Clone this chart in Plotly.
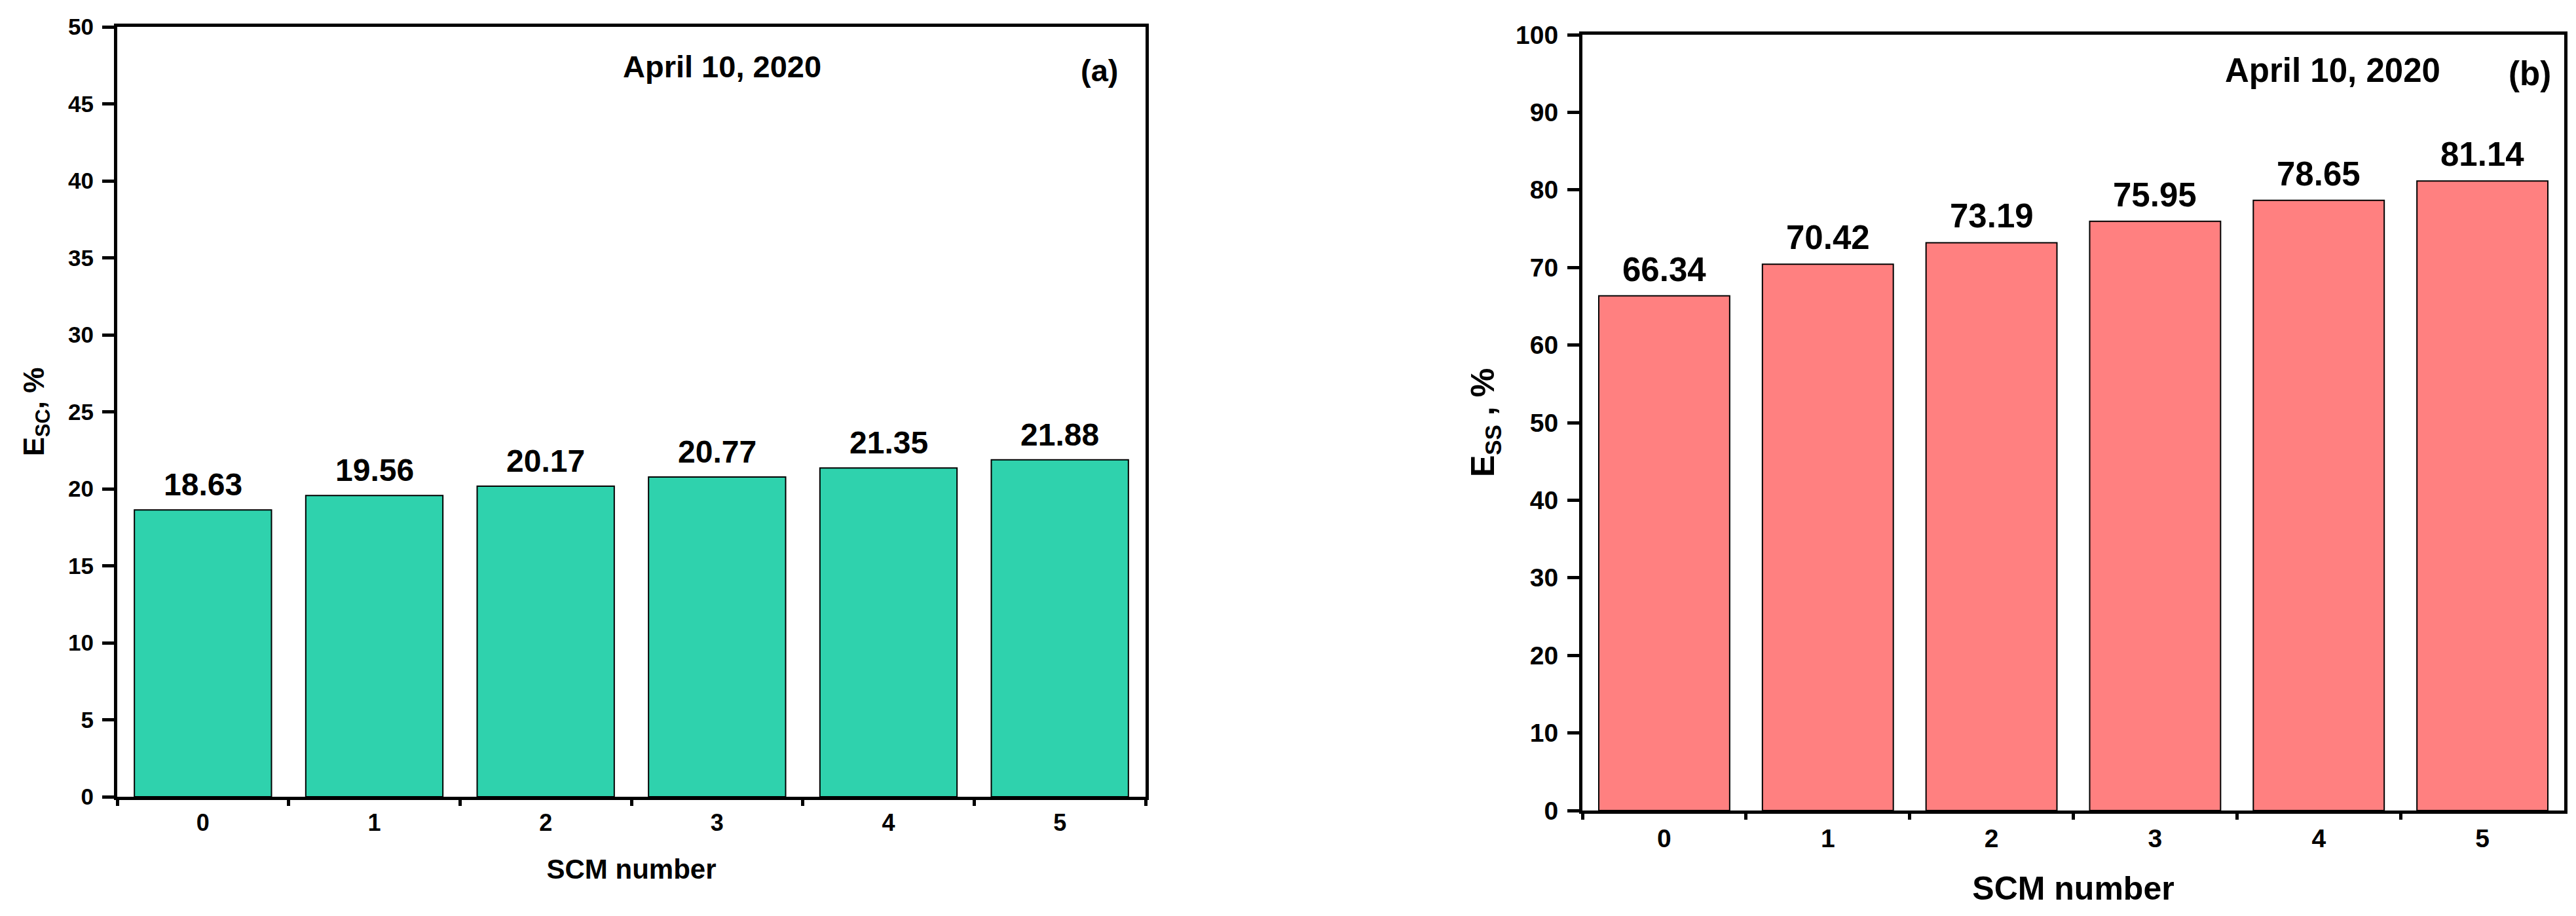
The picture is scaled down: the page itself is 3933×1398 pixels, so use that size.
import plotly.graph_objects as go

# ---- data ----
scm_numbers = ["0", "1", "2", "3", "4", "5"]
esc_values = [18.63, 19.56, 20.17, 20.77, 21.35, 21.88]
ess_values = [66.34, 70.42, 73.19, 75.95, 78.65, 81.14]
date_label = "April 10, 2020"
panel_labels = ["(a)", "(b)"]
x_title = "SCM number"
y_titles = ["E<sub>SC</sub>, %", "E<sub>SS</sub> , %"]

W, H = 3933, 1398
FONT = "Liberation Sans, Arial, sans-serif"
TEAL = "#2FD2AD"
PINK = "#FF8080"

fig = go.Figure()

fig.add_trace(go.Bar(
    x=scm_numbers, y=esc_values, xaxis="x", yaxis="y",
    marker=dict(color=TEAL, line=dict(color="black", width=2)),
    width=0.8, showlegend=False, hoverinfo="x+y",
))
fig.add_trace(go.Bar(
    x=scm_numbers, y=ess_values, xaxis="x2", yaxis="y2",
    marker=dict(color=PINK, line=dict(color="black", width=2)),
    width=0.8, showlegend=False, hoverinfo="x+y",
))


def xaxis_style(domain, anchor, size, title_size, standoff):
    return dict(
        domain=domain, anchor=anchor, type="category",
        categoryorder="array", categoryarray=scm_numbers,
        range=[-0.5, 5.5],
        showline=True, linecolor="black", linewidth=5, mirror=True,
        ticks="outside", tickson="boundaries", ticklen=9, tickwidth=5,
        tickcolor="black", showgrid=False, zeroline=False,
        tickfont=dict(family=FONT, size=size, color="black", weight="bold"),
        ticklabelstandoff=4,
        title=dict(text=x_title, standoff=standoff,
                   font=dict(family=FONT, size=title_size, color="black", weight="bold")),
        automargin=False,
        fixedrange=True,
    )


def yaxis_style(domain, anchor, rng, dtick, size, title, title_size, standoff):
    return dict(
        domain=domain, anchor=anchor, range=rng, dtick=dtick, tick0=0,
        showline=True, linecolor="black", linewidth=5, mirror=True,
        ticks="outside", ticklen=18, tickwidth=5, tickcolor="black",
        showgrid=False, zeroline=False,
        tickfont=dict(family=FONT, size=size, color="black", weight="bold"),
        ticklabelstandoff=6,
        title=dict(text=title, standoff=standoff,
                   font=dict(family=FONT, size=title_size, color="black", weight="bold")),
        automargin=False,
        fixedrange=True,
    )


fig.update_layout(
    width=W, height=H, autosize=False,
    margin=dict(l=0, r=0, t=0, b=0),
    paper_bgcolor="white", plot_bgcolor="white",
    bargap=0.2,
    xaxis=xaxis_style([171 / W, 1741 / W], "y", 36, 42, 38),
    yaxis=yaxis_style([190 / H, 1365 / H], "x", [0, 50], 5, 35, y_titles[0], 44, 24),
    xaxis2=xaxis_style([2408 / W, 3907 / W], "y2", 39, 50, 40),
    yaxis2=yaxis_style([169 / H, 1353 / H], "x2", [0, 100], 10, 39, y_titles[1], 50, 18),
)

annotations = []
# bar value labels
for xv, yv in zip(scm_numbers, esc_values):
    annotations.append(dict(
        x=xv, y=yv, xref="x", yref="y", text=f"{yv:.2f}", showarrow=False,
        yanchor="bottom", xanchor="center", yshift=10,
        font=dict(family=FONT, size=48, color="black", weight="bold"),
    ))
for xv, yv in zip(scm_numbers, ess_values):
    annotations.append(dict(
        x=xv, y=yv, xref="x2", yref="y2", text=f"{yv:.2f}", showarrow=False,
        yanchor="bottom", xanchor="center", yshift=10,
        font=dict(family=FONT, size=51, color="black", weight="bold"),
    ))

# date and panel labels
annotations += [
    dict(x=1094 / W, y=1 - 93 / H, xref="paper", yref="paper", text=date_label,
         showarrow=False, xanchor="center", yanchor="middle",
         font=dict(family=FONT, size=47, color="black", weight="bold")),
    dict(x=1670 / W, y=1 - 100 / H, xref="paper", yref="paper", text=panel_labels[0],
         showarrow=False, xanchor="center", yanchor="middle",
         font=dict(family=FONT, size=47, color="black", weight="bold")),
    dict(x=3720 / W, y=1 - 100 / H, xref="paper", yref="paper", text=date_label,
         showarrow=False, xanchor="right", yanchor="middle",
         font=dict(family=FONT, size=51, color="black", weight="bold")),
    dict(x=3854 / W, y=1 - 105 / H, xref="paper", yref="paper", text=panel_labels[1],
         showarrow=False, xanchor="center", yanchor="middle",
         font=dict(family=FONT, size=51, color="black", weight="bold")),
]

fig.update_layout(annotations=annotations)

fig.write_html("out.html", config={"displayModeBar": False})
